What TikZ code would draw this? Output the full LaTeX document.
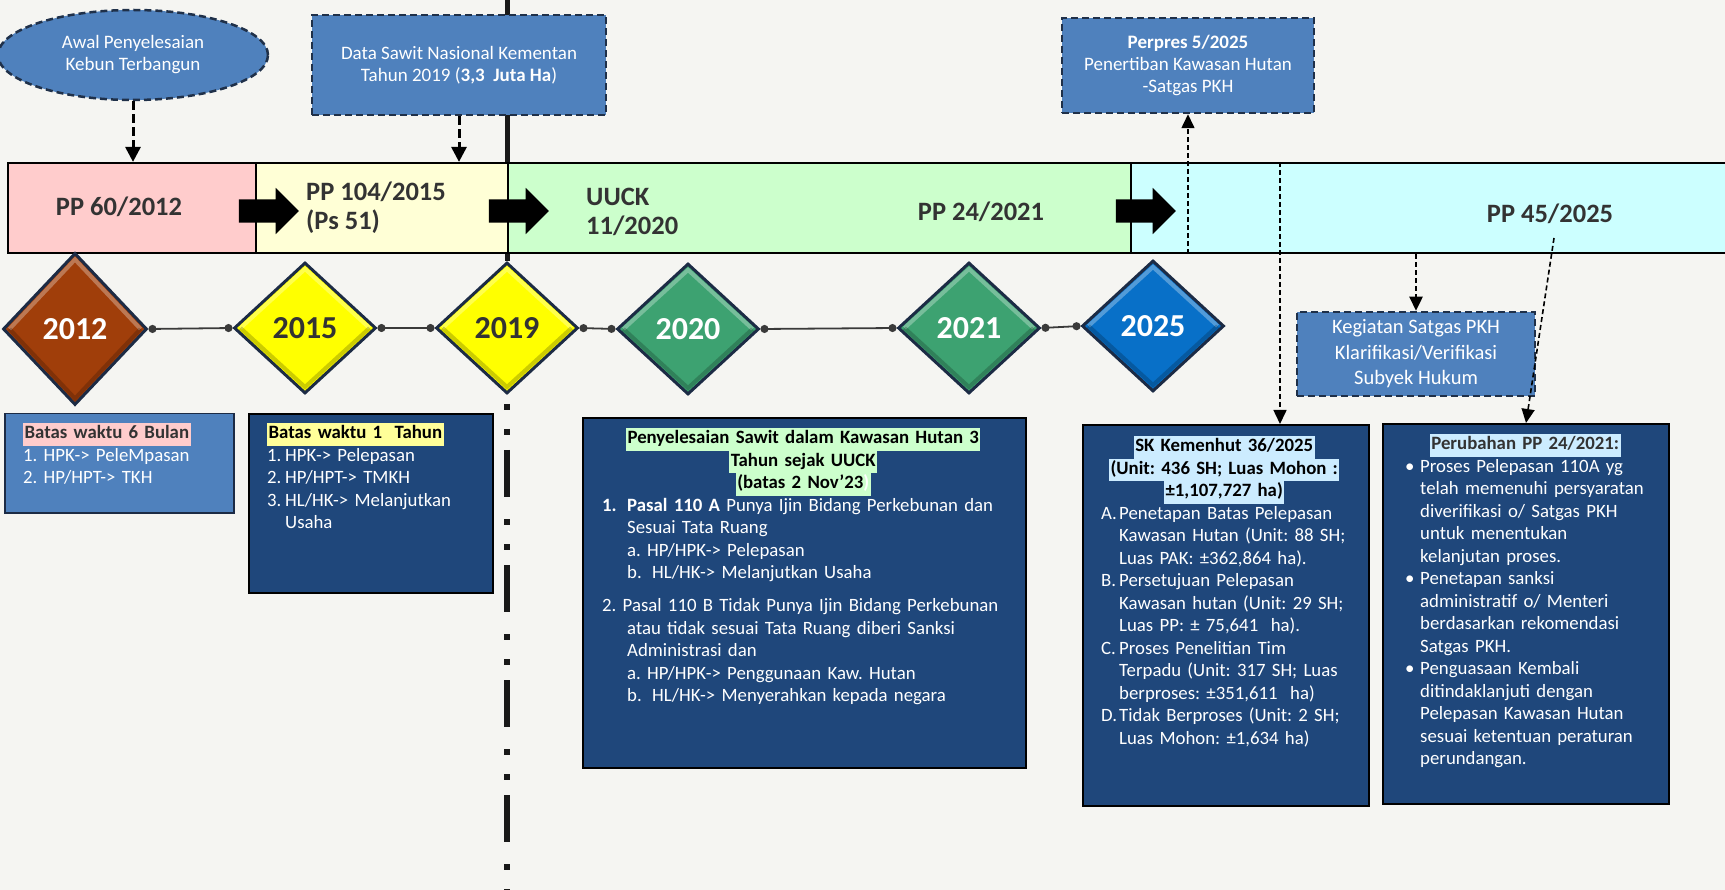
\documentclass[tikz,border=0pt]{standalone}
\usepackage{fontspec}
\setmainfont{Carlito}
\usetikzlibrary{shapes.geometric,shapes.arrows,arrows.meta}

\definecolor{paper}{HTML}{F5F5F2}
\definecolor{pinkband}{HTML}{FFCCCC}
\definecolor{creamband}{HTML}{FFFFD6}
\definecolor{greenband}{HTML}{CCFFCC}
\definecolor{cyanband}{HTML}{CCFFFF}
\definecolor{bandtext}{HTML}{333333}
\definecolor{notefill}{HTML}{4F81BD}
\definecolor{notedge}{HTML}{1F3049}
\definecolor{navybox}{HTML}{1F477B}
\definecolor{edgenavy}{HTML}{1C2B45}
\definecolor{brownyr}{HTML}{A03E0A}
\definecolor{yellowyr}{HTML}{FFFF00}
\definecolor{greenyr}{HTML}{3DA271}
\definecolor{blueyr}{HTML}{0870C8}
\definecolor{linegray}{HTML}{3A3A3A}
\definecolor{pinkhl}{HTML}{FFCCCC}
\definecolor{yellowhl}{HTML}{FFFF99}
\definecolor{greenhl}{HTML}{CCFFCC}
\definecolor{cyanhl}{HTML}{CCECFF}

\newcommand{\bodyfont}{\fontsize{18.8}{22.5}\selectfont\frenchspacing}
\newcommand{\hl}[2]{{\setlength{\fboxsep}{0pt}\colorbox{#1}{\hspace{1.5pt}\strut#2\hspace{1.5pt}}}}
\newcommand{\lbl}[2]{\makebox[#1][l]{#2}}

\begin{document}
\begin{tikzpicture}[x=1pt, y=-1pt,
    band/.style={draw=black, line width=2.2, minimum height=90, inner sep=0},
    bandlabel/.style={text=bandtext, font=\fontsize{26.5}{29}\selectfont\bfseries, align=left, inner sep=0},
    blockarrow/.style={single arrow, fill=black, inner xsep=0, inner ysep=11.5, minimum height=60, single arrow head extend=11.5},
    note/.style={draw=notedge, fill=notefill, line width=2.5, dash pattern=on 7pt off 4pt, text=white, align=center, inner sep=0, font=\fontsize{19}{22}\selectfont\frenchspacing},
    year/.style={diamond, draw=edgenavy, line width=3, inner sep=0, minimum width=142, minimum height=131, font=\fontsize{32}{32}\selectfont\bfseries},
    yearlink/.style={draw=linegray, line width=1.8, {Circle[length=8pt]}-{Circle[length=8pt]}},
    panel/.style={draw=black, line width=2, fill=navybox, anchor=north west, inner sep=0},
    paneltext/.style={anchor=north west, inner sep=0, text=white, align=left, text width=#1, font=\bodyfont},
    dlink/.style={line width=1.6, dash pattern=on 5pt off 3pt, -{Triangle[length=14pt,width=13pt]}},
    dlinkbold/.style={line width=3, dash pattern=on 9pt off 4pt, -{Triangle[length=15pt,width=15pt]}},
    divider/.style={line width=6, dash pattern=on 6pt off 19pt on 6pt off 15pt on 47pt off 22pt, dash phase=106pt}]

    \fill[paper] (0,0) rectangle (1725,890);
    \useasboundingbox (0,0) rectangle (1725,890);

    %===========================
    % Divider 2019
    %===========================
    \node[year, fill=yellowyr, text=bandtext] (y19) at (507,328) {2019};
    \coordinate (top19) at (507,0);
    \coordinate (bot19) at (507,890);
    \draw[line width=5, black!90] (top19) -- (y19.north);
    \draw[divider, black!90] (y19.south) -- (bot19);

    %===========================
    % Regulation band
    %===========================
    \node[band, fill=pinkband, minimum width=248] (pp12) at (132,208) {};
    \node[band, fill=creamband, minimum width=252] (pp15) at (382,208) {};
    \node[band, fill=greenband, minimum width=623] (pp20) at (819.5,208) {};
    \node[band, fill=cyanband, minimum width=610] (pp25) at (1436,208) {};

    \node[bandlabel] (t12) at (119,207) {PP 60/2012};
    \node[bandlabel, anchor=west] (t15) at (306,208) {PP 104/2015\\(Ps 51)};
    \node[bandlabel, anchor=west] (t20) at (586,212) {UUCK\\11/2020};
    \node[bandlabel] (t21) at (981,212) {PP 24/2021};
    \node[bandlabel] (t45) at (1550,214) {PP 45/2025};

    \node[blockarrow] (ar1) at (263,211) {};
    \node[blockarrow] (ar2) at (513,211) {};
    \node[blockarrow] (ar3) at (1140,211) {};

    %===========================
    % Notes on top
    %===========================
    \node[note, ellipse, minimum width=270, minimum height=90] (awal) at (133,55) {Awal Penyelesaian\\Kebun Terbangun};
    \draw[dlinkbold] (awal.south) -- (awal.south |- pp12.north);

    \node[note, minimum width=294, minimum height=100] (dsn) at (459,65) {Data Sawit Nasional Kementan\\Tahun 2019 (\textbf{3,3\ \ Juta Ha})};
    \draw[dlinkbold] (dsn.south) -- (dsn.south |- pp15.north);

    \node[note, minimum width=252, minimum height=95] (perpres) at (1188,65.5) {\textbf{Perpres 5/2025}\\Penertiban Kawasan Hutan\\-Satgas PKH};
    \draw[dlink] (perpres.south |- pp25.south) -- (perpres.south);

    \node[note, font=\fontsize{20.5}{25.5}\selectfont, minimum width=238, minimum height=84] (satgas) at (1416,354) {Kegiatan Satgas PKH\\Klarifikasi/Verifikasi\\Subyek Hukum};
    \draw[dlink, line width=2.4] (satgas.north |- pp25.south) -- (satgas.north);

    %===========================
    % Years
    %===========================
    \node[year, fill=brownyr, text=white, minimum width=144, minimum height=152] (y12) at (75,329) {2012};
    \node[year, fill=yellowyr, text=bandtext] (y15) at (305,328) {2015};
    \node[year, fill=greenyr, text=white] (y20) at (688,329) {2020};
    \node[year, fill=greenyr, text=white] (y21) at (969,328) {2021};
    \node[year, fill=blueyr, text=white] (y25) at (1153,326) {2025};

    % bevel
    \foreach \y in {y12,y15,y19,y20,y21,y25} {
        \draw[white, opacity=.3, line width=4] ([xshift=8pt]\y.west) -- ([yshift=-8pt]\y.north) -- ([xshift=-8pt]\y.east);
        \draw[black, opacity=.2, line width=4] ([xshift=8pt]\y.west) -- ([yshift=8pt]\y.south) -- ([xshift=-8pt]\y.east);
    }

    \foreach \a/\b in {y12/y15, y15/y19, y19/y20, y20/y21, y21/y25}
        \draw[yearlink] (\a.east) -- (\b.west);

    %===========================
    % Panels
    %===========================
    \node[panel, fill=notefill, draw=edgenavy, line width=1.5, minimum width=229, minimum height=99] (b1) at (4,413) {};
    \node[paneltext=205] (b1txt) at (23,423) {\noindent\hl{pinkhl}{\textcolor{bandtext}{\textbf{Batas waktu 6 Bulan}}}\\
        1. HPK-> PeleMpasan\\
        2. HP/HPT-> TKH};

    \node[panel, minimum width=244, minimum height=179] (b2) at (248,413) {};
    \node[paneltext=220] (b2txt) at (267,423) {\noindent\hl{yellowhl}{\textcolor{black}{\textbf{Batas waktu 1\ \ Tahun}}}\\
        \lbl{18pt}{1.}HPK-> Pelepasan\\
        \lbl{18pt}{2.}HP/HPT-> TMKH\\
        \lbl{18pt}{3.}HL/HK-> Melanjutkan\\
        \lbl{18pt}{}Usaha};

    \node[panel, minimum width=443, minimum height=350] (b3) at (582,417) {};
    \node[paneltext=402] (b3txt) at (602,428) {{\centering\color{black}\bfseries
        \hl{greenhl}{Penyelesaian Sawit dalam Kawasan Hutan 3}\\
        \hl{greenhl}{Tahun sejak UUCK}\\
        \hl{greenhl}{(batas 2 Nov’23{\color{white})}}\par}
        \noindent\lbl{25pt}{\textbf{1.}}\textbf{Pasal 110 A} Punya Ijin Bidang Perkebunan dan\\
        \lbl{25pt}{}Sesuai Tata Ruang\\
        \lbl{25pt}{}a. HP/HPK-> Pelepasan\\
        \lbl{25pt}{}\lbl{25pt}{b.}HL/HK-> Melanjutkan Usaha\\[10.5pt]
        2. Pasal 110 B Tidak Punya Ijin Bidang Perkebunan\\
        \lbl{25pt}{}atau tidak sesuai Tata Ruang diberi Sanksi\\
        \lbl{25pt}{}Administrasi dan\\
        \lbl{25pt}{}a. HP/HPK-> Penggunaan Kaw. Hutan\\
        \lbl{25pt}{}\lbl{25pt}{b.}HL/HK-> Menyerahkan kepada negara};

    \node[panel, minimum width=286, minimum height=381] (b4) at (1082,424) {};
    \node[paneltext=246] (b4txt) at (1101,436) {{\centering\color{black}\bfseries
        \hl{cyanhl}{SK Kemenhut 36/2025}\\
        \hl{cyanhl}{(Unit: 436 SH; Luas Mohon :}\\
        \hl{cyanhl}{±1,107,727 ha)}\par}
        \noindent\lbl{18pt}{A.}Penetapan Batas Pelepasan\\
        \lbl{18pt}{}Kawasan Hutan (Unit: 88 SH;\\
        \lbl{18pt}{}Luas PAK: ±362,864 ha).\\
        \lbl{18pt}{B.}Persetujuan Pelepasan\\
        \lbl{18pt}{}Kawasan hutan (Unit: 29 SH;\\
        \lbl{18pt}{}Luas PP: ± 75,641\ \ ha).\\
        \lbl{18pt}{C.}Proses Penelitian Tim\\
        \lbl{18pt}{}Terpadu (Unit: 317 SH; Luas\\
        \lbl{18pt}{}berproses: ±351,611\ \ ha)\\
        \lbl{18pt}{D.}Tidak Berproses (Unit: 2 SH;\\
        \lbl{18pt}{}Luas Mohon: ±1,634 ha)};

    \coordinate (skin) at ([xshift=54pt]b4.north);
    \draw[dlink] (skin |- pp25.north) -- (skin);

    \node[panel, minimum width=286, minimum height=380] (b5) at (1382,423) {};
    \node[paneltext=240] (b5txt) at (1405,434) {{\centering\bfseries
        \hl{cyanhl}{\textcolor{bandtext}{Perubahan PP 24/2021:}}\par}
        \noindent\lbl{15pt}{•}Proses Pelepasan 110A yg\\
        \lbl{15pt}{}telah memenuhi persyaratan\\
        \lbl{15pt}{}diverifikasi o/ Satgas PKH\\
        \lbl{15pt}{}untuk menentukan\\
        \lbl{15pt}{}kelanjutan proses.\\
        \lbl{15pt}{•}Penetapan sanksi\\
        \lbl{15pt}{}administratif o/ Menteri\\
        \lbl{15pt}{}berdasarkan rekomendasi\\
        \lbl{15pt}{}Satgas PKH.\\
        \lbl{15pt}{•}Penguasaan Kembali\\
        \lbl{15pt}{}ditindaklanjuti dengan\\
        \lbl{15pt}{}Pelepasan Kawasan Hutan\\
        \lbl{15pt}{}sesuai ketentuan peraturan\\
        \lbl{15pt}{}perundangan.};

    \coordinate (p45foot) at (1554,238);
    \draw[dlink] (p45foot) -- (b5.north);

\end{tikzpicture}
\end{document}
